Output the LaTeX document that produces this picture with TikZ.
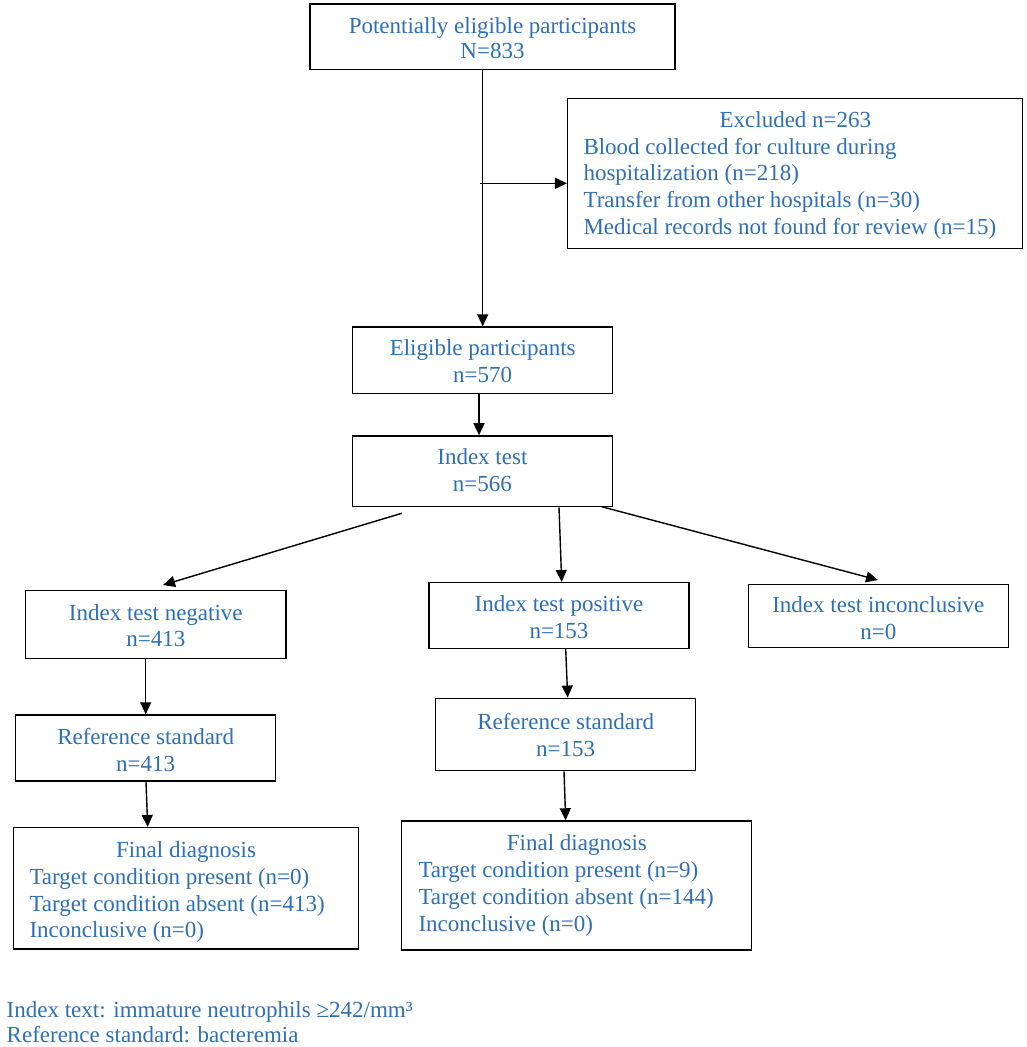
\documentclass[tikz,border=0pt]{standalone}
\usepackage{fontspec}
\setmainfont{Liberation Serif}
\usetikzlibrary{arrows.meta}
\definecolor{txtblue}{RGB}{46,112,182}
\begin{document}
\begin{tikzpicture}[x=1pt,y=-1pt,
  boxs/.style={draw=black,line width=1.5pt,inner sep=0pt},
  txt/.style={inner sep=0pt,text=txtblue,font=\fontsize{23}{26.7}\selectfont},
  arr/.style={line width=1.4pt,-{Triangle[length=12pt,width=11pt]}}]
\useasboundingbox (0,0) rectangle (1026,1047);
\fill[white] (0,0) rectangle (1026,1047);
% boxes
\node[boxs,minimum width=365pt,minimum height=65.3pt] (top) at (492.5,36.7) {};
\node[boxs,minimum width=455pt,minimum height=150pt] (excl) at (795.2,173.3) {};
\node[boxs,minimum width=260pt,minimum height=66.3pt] (elig) at (482.7,360.2) {};
\node[boxs,minimum width=260pt,minimum height=70.7pt] (idx) at (482.4,471.3) {};
\node[boxs,minimum width=260.3pt,minimum height=67.6pt] (neg) at (155.8,624.5) {};
\node[boxs,minimum width=260pt,minimum height=65.6pt] (pos) at (559,615.5) {};
\node[boxs,minimum width=260pt,minimum height=63.4pt] (inc) at (878.3,616) {};
\node[boxs,minimum width=260pt,minimum height=66pt] (refl) at (145.7,748) {};
\node[boxs,minimum width=260pt,minimum height=72.4pt] (refm) at (565.7,734.5) {};
\node[boxs,minimum width=345pt,minimum height=121.3pt] (finl) at (185.8,888.3) {};
\node[boxs,minimum width=350pt,minimum height=129pt] (finm) at (576.7,885.5) {};
% texts
\node[txt,font=\fontsize{23}{25}\selectfont] (topt) at (492.5,40.7)
  {\begin{tabular}{@{}c@{}}Potentially eligible participants\\N=833\end{tabular}};
\node[txt,anchor=west] (exclt) at (583.3,175.6)
  {\begin{tabular}{@{}l@{}}\makebox[423.8pt]{Excluded n=263}\\Blood collected for culture during\\hospitalization (n=218)\\Transfer from other hospitals (n=30)\\Medical records not found for review (n=15)\end{tabular}};
\node[txt] (eligt) at (482.7,363.8)
  {\begin{tabular}{@{}c@{}}Eligible participants\\n=570\end{tabular}};
\node[txt] (idxt) at (482.4,472.5)
  {\begin{tabular}{@{}c@{}}Index test\\n=566\end{tabular}};
\node[txt] (negt) at (155.8,628.3)
  {\begin{tabular}{@{}c@{}}Index test negative\\n=413\end{tabular}};
\node[txt] (post) at (559,620)
  {\begin{tabular}{@{}c@{}}Index test positive\\n=153\end{tabular}};
\node[txt] (inct) at (878.3,620.6)
  {\begin{tabular}{@{}c@{}}Index test inconclusive\\n=0\end{tabular}};
\node[txt] (reflt) at (145.7,752.3)
  {\begin{tabular}{@{}c@{}}Reference standard\\n=413\end{tabular}};
\node[txt] (refmt) at (565.7,737.6)
  {\begin{tabular}{@{}c@{}}Reference standard\\n=153\end{tabular}};
\node[txt,anchor=west] (finlt) at (29.3,892.3)
  {\begin{tabular}{@{}l@{}}\makebox[313pt]{Final diagnosis}\\Target condition present (n=0)\\Target condition absent (n=413)\\Inconclusive (n=0)\end{tabular}};
\node[txt,anchor=west] (finmt) at (418.3,885.6)
  {\begin{tabular}{@{}l@{}}\makebox[316.8pt]{Final diagnosis}\\Target condition present (n=9)\\Target condition absent (n=144)\\Inconclusive (n=0)\end{tabular}};
\node[txt,anchor=west,font=\fontsize{23}{25}\selectfont] (foot) at (6.5,1025.4)
  {\begin{tabular}{@{}l@{}}Index text: immature neutrophils ≥242/mm³\\Reference standard: bacteremia\end{tabular}};
% connector helper coordinates
\coordinate (br) at (480,183.3);
\coordinate (ls) at (401.7,513.3);
\coordinate (le) at (163,585);
\coordinate (rs) at (601.7,506.7);
\coordinate (re) at (878,580);
\coordinate (x1) at (479,0);
\coordinate (x2) at (559,0);
\coordinate (x3) at (561.7,0);
\coordinate (x4) at (146,0);
\coordinate (x5) at (147.7,0);
\coordinate (x6) at (565.7,0);
\coordinate (x7) at (567.7,0);
\coordinate (x8) at (564,0);
\coordinate (x9) at (565.7,0);
% connectors
\draw[arr] (top.south -| elig.north) -- (elig.north);
\draw[arr] (br) -- (excl.west |- br);
\draw[arr] (elig.south -| x1) -- (idx.north -| x1);
\draw[arr] (ls) -- (le);
\draw[arr] (idx.south -| x2) -- (pos.north -| x3);
\draw[arr] (rs) -- (re);
\draw[arr] (neg.south -| refl.north) -- (refl.north);
\draw[arr] (refl.south -| x4) -- (finl.north -| x5);
\draw[arr] (pos.south -| x6) -- (refm.north -| x7);
\draw[arr] (refm.south -| x8) -- (finm.north -| x9);
\end{tikzpicture}
\end{document}
